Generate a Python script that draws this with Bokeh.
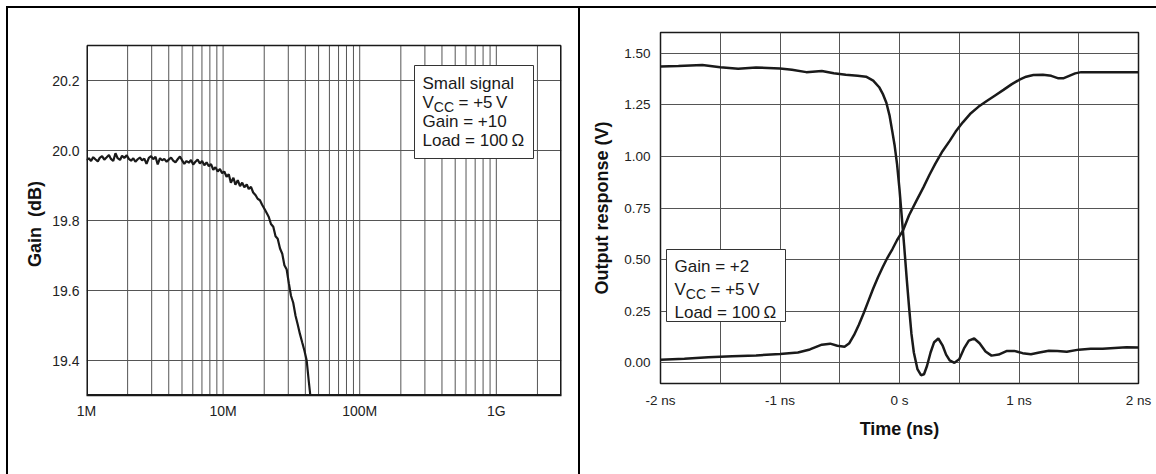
from bokeh.plotting import figure
from bokeh.layouts import row
from bokeh.models import (FixedTicker, CustomJSTickFormatter, PrintfTickFormatter,
                          BoxAnnotation, Label)
from bokeh.embed import file_html
from bokeh.resources import INLINE
import math

# ---------------- data ----------------
# Left: small-signal gain vs frequency
freq_mhz = [1.00, 1.04, 1.08, 1.12, 1.16, 1.21, 1.25, 1.30, 1.35, 1.40, 1.46, 1.51, 1.57,
            1.63, 1.69, 1.76, 1.82, 1.89, 1.97, 2.04, 2.12, 2.20, 2.28, 2.37, 2.46, 2.55,
            2.65, 2.75, 2.86, 2.97, 3.08, 3.20, 3.32, 3.45, 3.58, 3.71, 3.86, 4.00, 4.16,
            4.31, 4.48, 4.65, 4.83, 5.01, 5.20, 5.40, 5.61, 5.82, 6.04, 6.27, 6.51, 6.76,
            7.02, 7.29, 7.57, 7.86, 8.16, 8.47, 8.79, 9.13, 9.48, 9.84, 10.2, 10.6, 11.0,
            11.4, 11.9, 12.3, 12.8, 13.3, 13.8, 14.3, 14.9, 15.4, 16.0, 16.6, 17.3, 17.9,
            18.6, 19.3, 20.1, 20.8, 21.6, 22.4, 23.3, 24.2, 25.1, 26.1, 27.1, 28.1, 29.2,
            30.3, 31.4, 32.6, 33.9, 35.2, 36.5, 37.9, 39.4, 40.9, 42.4, 43.5]
gain_db = [19.972, 19.978, 19.970, 19.981, 19.975, 19.969, 19.979, 19.984, 19.974, 19.980,
           19.987, 19.976, 19.970, 19.992, 19.978, 19.973, 19.985, 19.979, 19.986, 19.976,
           19.971, 19.978, 19.968, 19.975, 19.980, 19.972, 19.977, 19.962, 19.979, 19.984,
           19.975, 19.982, 19.960, 19.978, 19.972, 19.976, 19.968, 19.974, 19.980, 19.971,
           19.966, 19.975, 19.983, 19.972, 19.962, 19.970, 19.965, 19.973, 19.960, 19.968,
           19.974, 19.963, 19.970, 19.958, 19.966, 19.955, 19.961, 19.945, 19.952, 19.940,
           19.947, 19.935, 19.940, 19.925, 19.932, 19.908, 19.922, 19.902, 19.915, 19.898,
           19.908, 19.895, 19.903, 19.890, 19.896, 19.880, 19.872, 19.862, 19.858, 19.845,
           19.833, 19.822, 19.810, 19.790, 19.782, 19.755, 19.748, 19.720, 19.705, 19.672,
           19.660, 19.620, 19.585, 19.565, 19.528, 19.502, 19.476, 19.452, 19.428, 19.400,
           19.340, 19.300]
freq_ticks = [1e6, 1e7, 1e8, 1e9]
freq_labels = ["1M", "10M", "100M", "1G"]
gain_ticks = [19.4, 19.6, 19.8, 20.0, 20.2]
gain_min, gain_max = 19.3, 20.3
freq_min, freq_max = 1e6, 3e9

# Right: large-signal pulse response
t_rise = [-2.0, -1.8, -1.6, -1.4, -1.2, -1.0, -0.85, -0.75, -0.65, -0.58, -0.52, -0.46,
          -0.42, -0.38, -0.34, -0.30, -0.26, -0.22, -0.18, -0.14, -0.10, -0.06, -0.02,
          0.03, 0.08, 0.14, 0.20, 0.25, 0.30, 0.36, 0.42, 0.47, 0.53, 0.59, 0.66, 0.73,
          0.80, 0.87, 0.94, 1.00, 1.06, 1.12, 1.20, 1.27, 1.33, 1.37, 1.42, 1.47, 1.52,
          1.70, 1.85, 2.0]
v_rise = [0.015, 0.020, 0.027, 0.032, 0.036, 0.043, 0.050, 0.065, 0.088, 0.093, 0.083,
          0.078, 0.095, 0.135, 0.185, 0.240, 0.300, 0.360, 0.415, 0.464, 0.510, 0.550,
          0.595, 0.642, 0.715, 0.783, 0.850, 0.910, 0.965, 1.025, 1.075, 1.120, 1.165,
          1.205, 1.240, 1.268, 1.295, 1.322, 1.350, 1.370, 1.386, 1.394, 1.395, 1.390,
          1.378, 1.378, 1.390, 1.402, 1.408, 1.408, 1.408, 1.408]
t_fall = [-2.0, -1.85, -1.65, -1.5, -1.35, -1.2, -1.0, -0.9, -0.78, -0.65, -0.55, -0.45,
          -0.35, -0.28, -0.22, -0.17, -0.14, -0.11, -0.084, -0.06, -0.04, -0.02, 0.0, 0.02,
          0.04, 0.06, 0.08, 0.10, 0.12, 0.15, 0.18, 0.205, 0.23, 0.26, 0.29, 0.325, 0.36,
          0.39, 0.42, 0.46, 0.50, 0.54, 0.58, 0.625, 0.67, 0.72, 0.77, 0.83, 0.90, 0.96,
          1.03, 1.10, 1.17, 1.25, 1.32, 1.40, 1.50, 1.60, 1.70, 1.80, 1.90, 2.0]
v_fall = [1.435, 1.438, 1.443, 1.432, 1.425, 1.430, 1.426, 1.420, 1.408, 1.414, 1.403,
          1.395, 1.390, 1.386, 1.367, 1.335, 1.303, 1.260, 1.200, 1.120, 1.050, 0.960,
          0.840, 0.700, 0.560, 0.410, 0.270, 0.140, 0.050, -0.030, -0.060, -0.055, -0.015,
          0.050, 0.100, 0.118, 0.085, 0.040, 0.012, 0.000, 0.018, 0.070, 0.108, 0.118,
          0.095, 0.055, 0.035, 0.040, 0.058, 0.058, 0.047, 0.042, 0.050, 0.059, 0.057,
          0.054, 0.064, 0.068, 0.068, 0.072, 0.076, 0.074]
time_ticks = [-2, -1, 0, 1, 2]
volt_ticks = [0.0, 0.25, 0.5, 0.75, 1.0, 1.25, 1.5]

FONT = "Liberation Sans"
INK = "#1a1a1a"
GRID = "#555555"

# Row layouts align the top borders of both figures, so both use a 32px top border;
# the left frame is extended upward by 13px and that strip is left empty.
TOP = 32
# ---------------- left panel (page x 0..580) ----------------
L_X0, L_PLOT_TOP, L_W, L_H = 86, 45, 475, 350
L_EXTRA = L_PLOT_TOP - TOP
p1 = figure(x_axis_type="log", x_range=(freq_min, freq_max),
            y_range=(gain_min, gain_max + L_EXTRA * (gain_max - gain_min) / L_H),
            frame_width=L_W, frame_height=L_H + L_EXTRA,
            min_border_left=L_X0, min_border_right=580 - L_X0 - L_W, min_border_top=TOP,
            min_border_bottom=474 - L_PLOT_TOP - L_H, output_backend="svg",
            toolbar_location=None)

LDEC = L_W / math.log10(freq_max / freq_min)
def lx(px):  # page px -> data
    return freq_min * 10 ** ((px - L_X0) / LDEC)
def ly(py):
    return gain_max - (py - L_PLOT_TOP) * (gain_max - gain_min) / L_H

# vertical grid lines (every 1..9 x decade), limited to the visible plot box
grid_f = [m * 10 ** e for e in range(6, 10) for m in range(1, 10) if m * 10 ** e <= freq_max]
p1.segment(x0=grid_f, y0=[gain_min] * len(grid_f), x1=grid_f, y1=[gain_max] * len(grid_f),
           line_color=GRID, line_width=1)

p1.line([f * 1e6 for f in freq_mhz], gain_db, line_color=INK, line_width=2.2)

p1.xaxis.ticker = FixedTicker(ticks=freq_ticks)
p1.xaxis.formatter = CustomJSTickFormatter(
    args=dict(labels=freq_labels),
    code="const i = Math.round(Math.log10(tick)) - 6; return labels[i] || '';")
p1.yaxis.ticker = FixedTicker(ticks=gain_ticks)
p1.yaxis.formatter = PrintfTickFormatter(format="%.1f")
p1.ygrid.ticker = FixedTicker(ticks=gain_ticks)
p1.yaxis.axis_label = "Gain\u00a0\u00a0(dB)\u00a0\u00a0\u00a0\u00a0"
p1.xaxis.major_label_standoff = 7
p1.yaxis.major_label_standoff = 7
p1.yaxis.axis_label_standoff = 4

# ---------------- right panel (page x 580..1156) ----------------
R_PX = 580
R_X0, R_W, R_H = 80, 478, 351
p2 = figure(x_range=(-2, 2), y_range=(-0.1, 1.6),
            frame_width=R_W, frame_height=R_H,
            min_border_left=R_X0, min_border_right=576 - R_X0 - R_W, min_border_top=TOP,
            min_border_bottom=474 - TOP - R_H, output_backend="svg", toolbar_location=None)

def rx(px):
    return -2 + (px - R_PX - R_X0) * 4 / R_W
def ry(py):
    return 1.6 - (py - TOP) * 1.7 / R_H

p2.line(t_fall, v_fall, line_color=INK, line_width=2.5)
p2.line(t_rise, v_rise, line_color=INK, line_width=2.5)
p2.xaxis.ticker = FixedTicker(ticks=time_ticks)
p2.xaxis.formatter = CustomJSTickFormatter(
    code="return tick == 0 ? '0 s' : tick.toFixed(0) + ' ns';")
p2.yaxis.ticker = FixedTicker(ticks=volt_ticks)
p2.yaxis.formatter = PrintfTickFormatter(format="%.2f")
p2.xgrid.ticker = FixedTicker(ticks=[-2 + 0.5 * i for i in range(9)])
p2.ygrid.ticker = FixedTicker(ticks=volt_ticks)
p2.xaxis.axis_label = "Time (ns)"
p2.yaxis.axis_label = "Output response (V)"
p2.xaxis.major_label_standoff = 9
p2.yaxis.major_label_standoff = 10
p2.xaxis.axis_label_standoff = 8
p2.yaxis.axis_label_standoff = 9

for p, fs in ((p1, "14px"), (p2, "13.5px")):
    p.outline_line_color = INK
    p.outline_line_width = 1.5
    p.border_fill_color = None
    p.background_fill_color = "white"
    p.grid.grid_line_color = GRID
    p.grid.grid_line_width = 1
    p.grid.grid_line_alpha = 1
    for ax in (p.xaxis, p.yaxis):
        ax.axis_line_color = None
        ax.major_tick_in = 0
        ax.major_tick_out = 0
        ax.minor_tick_line_color = None
        ax.major_label_text_font = FONT
        ax.major_label_text_font_size = fs
        ax.major_label_text_color = "#222222"
        ax.axis_label_text_font = FONT
        ax.axis_label_text_font_size = "18px"
        ax.axis_label_text_font_style = "bold"
        ax.axis_label_text_color = "#111111"

# left frame: no built-in outline/xgrid; draw the visible frame box
p1.xgrid.visible = False
p1.outline_line_color = None
p1.xaxis.axis_line_color = INK
p1.xaxis.axis_line_width = 1.5
p1.add_layout(BoxAnnotation(left=lx(L_X0 + 0.75), right=lx(L_X0 + L_W - 0.75),
                            bottom=ly(L_PLOT_TOP + L_H - 0.75), top=gain_max,
                            fill_alpha=0, line_color=INK, line_alpha=1, line_width=1.5))

# ---------------- legends ----------------
def legend(p, fx, fy, box, x_text, lines):
    l, r, t, b = box
    p.add_layout(BoxAnnotation(left=fx(l), right=fx(r), top=fy(t), bottom=fy(b),
                               fill_color="white", fill_alpha=1,
                               line_color="#333333", line_alpha=1, line_width=1))
    for kind, ty in lines:
        if kind == "vcc":
            p.add_layout(Label(x=fx(x_text), y=fy(ty), text="V", text_font=FONT,
                               text_font_size="17px", text_baseline="middle",
                               text_color=INK))
            p.add_layout(Label(x=fx(x_text + 11.3), y=fy(ty + 5), text="CC", text_font=FONT,
                               text_font_size="14px", text_baseline="middle",
                               text_color=INK))
            p.add_layout(Label(x=fx(x_text + 36), y=fy(ty), text="= +5\u2009V",
                               text_font=FONT, text_font_size="17px",
                               text_baseline="middle", text_color=INK))
        else:
            p.add_layout(Label(x=fx(x_text), y=fy(ty), text=kind, text_font=FONT,
                               text_font_size="17px", text_baseline="middle",
                               text_color=INK))

legend(p1, lx, ly, (414, 533, 65, 158), 422,
       [("Small signal", 82.5), ("vcc", 101.5), ("Gain = +10", 120.5),
        ("Load = 100\u2009\u03a9", 139.5)])
legend(p2, rx, ry, (666, 785, 249, 321), 674,
       [("Gain = +2", 265.5), ("vcc", 288.5), ("Load = 100\u2009\u03a9", 311.5)])

# ---------------- panel borders ----------------
p1.styles = {"box-shadow": "inset 6px 0 0 0 #fff, inset 0 6px 0 0 #fff, "
                           "inset 8px 0 0 0 #000, inset 0 8px 0 0 #000, inset -2px 0 0 0 #000"}
p2.styles = {"box-shadow": "inset 0 6px 0 0 #fff, inset 0 8px 0 0 #000"}

layout = row(p1, p2)
open("out.html", "w").write(file_html(layout, INLINE))
